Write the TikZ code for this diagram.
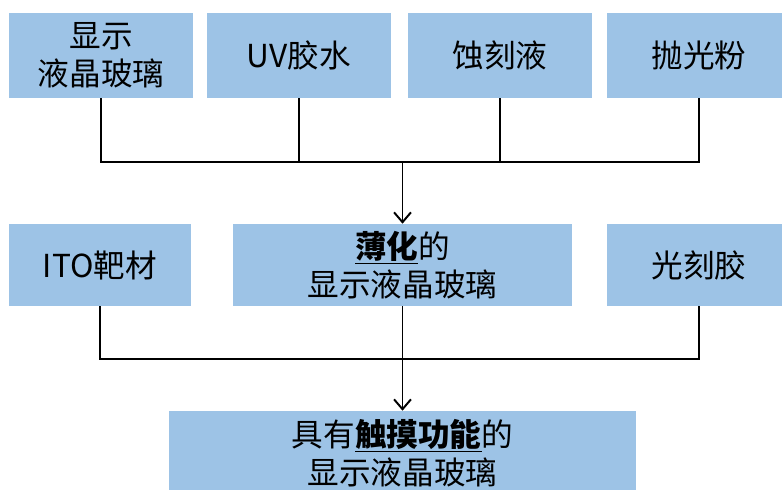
\documentclass[tikz,border=0pt]{standalone}
\usepackage{fontspec}
\setmainfont{Noto Sans CJK SC}
\usetikzlibrary{positioning}
\usetikzlibrary{calc}
\usetikzlibrary{arrows.meta}
\definecolor{boxblue}{HTML}{9DC3E6}
\tikzset{
  stuff/.style={fill=boxblue, inner sep=0pt, align=center,
    font=\fontsize{22.5}{27}\selectfont},
  feed/.style={line width=1pt},
  flow/.style={line width=1.4pt, -{Straight Barb[length=7pt, width=12pt]}},
}
\begin{document}
\begin{tikzpicture}[x=0.025cm, y=-0.025cm]
     \useasboundingbox (0,0) rectangle (782,490);
     \node[stuff, minimum width=4.6cm, minimum height=2.125cm] (glass) at (101,55.5) {显示\\液晶玻璃};
     \node[stuff, minimum width=4.6cm, minimum height=2.125cm] (uv) at (299,55.5) {UV胶水};
     \node[stuff, minimum width=4.6cm, minimum height=2.125cm] (etch) at (500,55.5) {蚀刻液};
     \node[stuff, minimum width=4.6cm, minimum height=2.125cm] (powder) at (699,55.5) {抛光粉};
     \node[stuff, minimum width=4.55cm, minimum height=2.05cm] (ito) at (100,265) {ITO靶材};
     \node[stuff, minimum width=8.475cm, minimum height=2.05cm] (thin) at (402.5,265) {\underline{\textbf{薄化}}的\\显示液晶玻璃};
     \node[stuff, minimum width=4.6cm, minimum height=2.05cm] (resist) at (699,265) {光刻胶};
     \node[stuff, minimum width=11.675cm, minimum height=2.1cm] (touch) at (402.5,453) {具有\underline{\textbf{触摸功能}}的\\显示液晶玻璃};
     \coordinate (hubA) at (402.5,162);
     \coordinate (hubB) at (402.5,359);
     \draw[feed] (glass.south) |- (hubA) -| (powder.south);
     \draw[feed] (uv.south) -- (uv.south |- hubA);
     \draw[feed] (etch.south) -- (etch.south |- hubA);
     \draw[flow] (hubA) -- (thin.north);
     \draw[feed] (ito.south) |- (hubB) -| (resist.south);
     \draw[flow] (thin.south) -- (touch.north);
    \end{tikzpicture}
\end{document}
